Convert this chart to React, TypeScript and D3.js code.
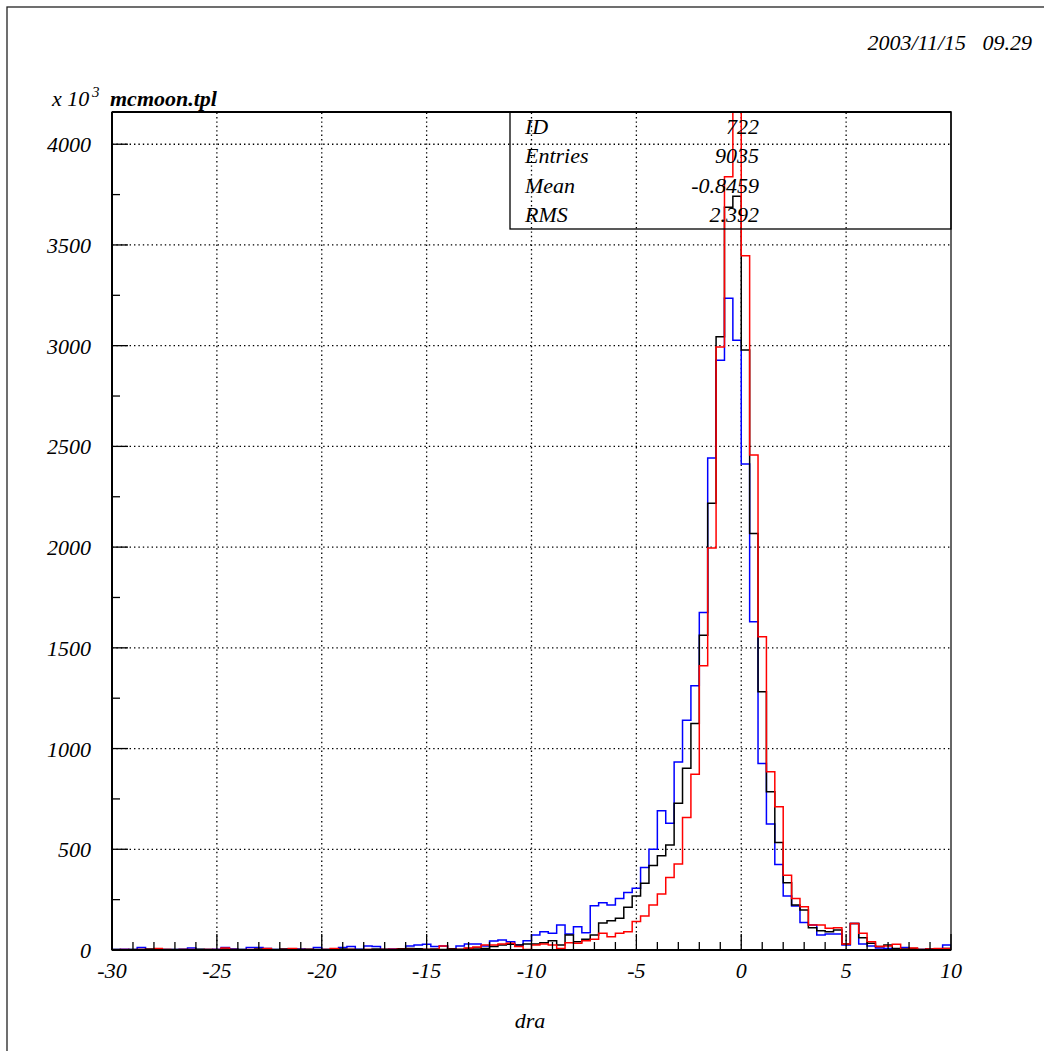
import React from "react";
import * as d3 from "d3";

// Histogram of dra, 100 bins over [-30, 10], counts in units of 10^3
const X_MIN = -30;
const X_MAX = 10;
const N_BINS = 100;
const Y_MAX = 4160;

const blueCounts = [
  3, 4, 3, 12, 3, 2, 3, 2, 4, 10,
  3, 2, 4, 12, 5, 3, 13, 12, 8, 3,
  4, 6, 5, 3, 12, 3, 2, 13, 17, 4,
  20, 17, 3, 5, 4, 20, 25, 28, 17, 20,
  5, 20, 30, 30, 20, 45, 50, 41, 25, 46,
  74, 91, 83, 124, 79, 116, 86, 220, 235, 223,
  256, 285, 306, 410, 500, 691, 629, 933, 1141, 1312,
  1676, 2442, 2928, 3236, 3027, 2412, 1629, 926, 625, 425,
  268, 218, 136, 124, 74, 79, 79, 25, 132, 30,
  20, 10, 8, 5, 13, 5, 3, 6, 5, 25,
];

const blackCounts = [
  2, 1, 3, 2, 5, 1, 2, 3, 2, 1,
  4, 2, 1, 5, 3, 2, 1, 5, 3, 2,
  5, 3, 2, 4, 2, 3, 1, 5, 4, 2,
  3, 5, 4, 2, 6, 8, 6, 4, 5, 3,
  6, 4, 8, 10, 8, 17, 25, 28, 25, 30,
  30, 36, 46, 25, 74, 41, 53, 74, 134, 145,
  157, 212, 268, 331, 419, 468, 521, 728, 902, 1125,
  1563, 2218, 3044, 3687, 3742, 2978, 2068, 1282, 786, 534,
  334, 223, 199, 111, 96, 91, 99, 30, 132, 61,
  33, 17, 25, 8, 5, 8, 3, 5, 5, 8,
];

const redCounts = [
  1, 2, 1, 2, 3, 8, 2, 1, 3, 2,
  1, 2, 3, 10, 2, 1, 3, 2, 8, 1,
  2, 8, 3, 2, 1, 2, 8, 1, 3, 1,
  2, 1, 3, 4, 2, 3, 1, 3, 2, 20,
  3, 2, 10, 15, 25, 25, 30, 33, 17, 3,
  25, 30, 25, 8, 36, 33, 46, 53, 83, 66,
  83, 91, 141, 169, 223, 278, 360, 427, 658, 872,
  1411, 1995, 2994, 3838, 4700, 3446, 2457, 1555, 885, 711,
  371, 256, 215, 124, 124, 108, 111, 30, 132, 83,
  41, 17, 20, 28, 3, 10, 3, 5, 7, 8,
];

const xTickLabels = ["-30", "-25", "-20", "-15", "-10", "-5", "0", "5", "10"];
const yTickLabels = ["0", "500", "1000", "1500", "2000", "2500", "3000", "3500", "4000"];

const statNames = ["ID", "Entries", "Mean", "RMS"];
const statValues = ["722", "9035", "-0.8459", "2.392"];

const dateText = "2003/11/15   09.29";
const titleText = "mcmoon.tpl";
const xTitle = "dra";

const FONT = "Liberation Serif, Times New Roman, Times, serif";
const txt = { fontFamily: FONT, fontStyle: "italic" as const, fontSize: 22 };

export default function App() {
  const W = 1044;
  const H = 1051;
  const left = 112;
  const right = 951;
  const top = 112;
  const bottom = 950;

  const x = d3.scaleLinear().domain([X_MIN, X_MAX]).range([left, right]);
  const y = d3.scaleLinear().domain([0, Y_MAX]).range([bottom, top]);
  const binW = (X_MAX - X_MIN) / N_BINS;

  const stepPath = (counts: number[]) => {
    const pts: [number, number][] = [[X_MIN, 0]];
    counts.forEach((c, i) => {
      const x0 = X_MIN + i * binW;
      pts.push([x0, c]);
      pts.push([x0 + binW, c]);
    });
    pts.push([X_MAX, 0]);
    return d3
      .line<[number, number]>()
      .x((d) => x(d[0]))
      .y((d) => y(d[1]))(pts) as string;
  };

  const xMajor = xTickLabels.map((t) => +t);
  const xMinor = d3.range(X_MIN, X_MAX + 0.001, 1).filter((v) => v % 5 !== 0);
  const yMajor = yTickLabels.map((t) => +t);
  const yMinor = d3.range(250, Y_MAX, 500);

  const dotted = { stroke: "#000", strokeWidth: 1.3, strokeDasharray: "1.4,3" };

  return (
    <svg
      width={W}
      height={H}
      style={{ position: "absolute", left: 0, top: 0, background: "#fff" }}
    >
      <rect x={0} y={0} width={W} height={H} fill="#fff" />
      {/* page frame */}
      <rect x={7} y={7} width={W + 20} height={H + 20} fill="none" stroke="#222" strokeWidth={1.3} />

      <text x={1032} y={50} textAnchor="end" style={txt} xmlSpace="preserve">
        {dateText}
      </text>

      {/* grid */}
      <g>
        {xMajor
          .filter((v) => v > X_MIN && v < X_MAX)
          .map((v) => (
            <line key={"gx" + v} x1={x(v)} x2={x(v)} y1={bottom} y2={top} {...dotted} />
          ))}
        {yMajor
          .filter((v) => v > 0)
          .map((v) => (
            <line key={"gy" + v} x1={left} x2={right} y1={y(v)} y2={y(v)} {...dotted} />
          ))}
      </g>

      {/* histograms */}
      <defs>
        <clipPath id="plotArea">
          <rect x={left} y={top} width={right - left} height={bottom - top} />
        </clipPath>
      </defs>
      <g clipPath="url(#plotArea)" fill="none" strokeWidth={1.5}>
        <path d={stepPath(blueCounts)} stroke="#0000ff" />
        <path d={stepPath(blackCounts)} stroke="#000" />
        <path d={stepPath(redCounts)} stroke="#ff0000" />
      </g>

      {/* frame and axes */}
      <rect x={left} y={top} width={right - left} height={bottom - top} fill="none" stroke="#000" strokeWidth={1.2} />
      <line x1={left} x2={left} y1={top} y2={bottom} stroke="#000" strokeWidth={2} />
      <line x1={left} x2={right} y1={bottom} y2={bottom} stroke="#000" strokeWidth={2} />
      <line x1={left} x2={right} y1={top} y2={top} stroke="#000" strokeWidth={1.8} />

      {xMajor.map((v) => (
        <line key={"xt" + v} x1={x(v)} x2={x(v)} y1={bottom} y2={bottom - 16} stroke="#000" strokeWidth={1.3} />
      ))}
      {xMinor.map((v) => (
        <line key={"xm" + v} x1={x(v)} x2={x(v)} y1={bottom} y2={bottom - 8} stroke="#000" strokeWidth={1.3} />
      ))}
      {yMajor.map((v) => (
        <line key={"yt" + v} x1={left} x2={left + 16} y1={y(v)} y2={y(v)} stroke="#000" strokeWidth={1.3} />
      ))}
      {yMinor.map((v) => (
        <line key={"ym" + v} x1={left} x2={left + 8} y1={y(v)} y2={y(v)} stroke="#000" strokeWidth={1.3} />
      ))}

      {/* tick labels */}
      {xTickLabels.map((t) => (
        <text key={"xl" + t} x={x(+t)} y={978} textAnchor="middle" style={txt}>
          {t}
        </text>
      ))}
      {yTickLabels.map((t) => (
        <text key={"yl" + t} x={91} y={y(+t) + 8} textAnchor="end" style={txt}>
          {t}
        </text>
      ))}

      {/* axis titles */}
      <text x={52} y={106} style={txt}>
        x 10
      </text>
      <text x={92} y={97} style={{ ...txt, fontSize: 15 }}>
        3
      </text>
      <text x={110} y={106} style={{ ...txt, fontWeight: "bold" }}>
        {titleText}
      </text>
      <text x={530} y={1028} textAnchor="middle" style={txt}>
        {xTitle}
      </text>

      {/* statistics box */}
      <rect x={510} y={112} width={right - 510} height={117} fill="none" stroke="#000" strokeWidth={1.3} />
      {statNames.map((n, i) => (
        <g key={n}>
          <text x={525} y={134 + i * 29.4} style={txt}>
            {n}
          </text>
          <text x={759} y={134 + i * 29.4} textAnchor="end" style={txt}>
            {statValues[i]}
          </text>
        </g>
      ))}
    </svg>
  );
}
